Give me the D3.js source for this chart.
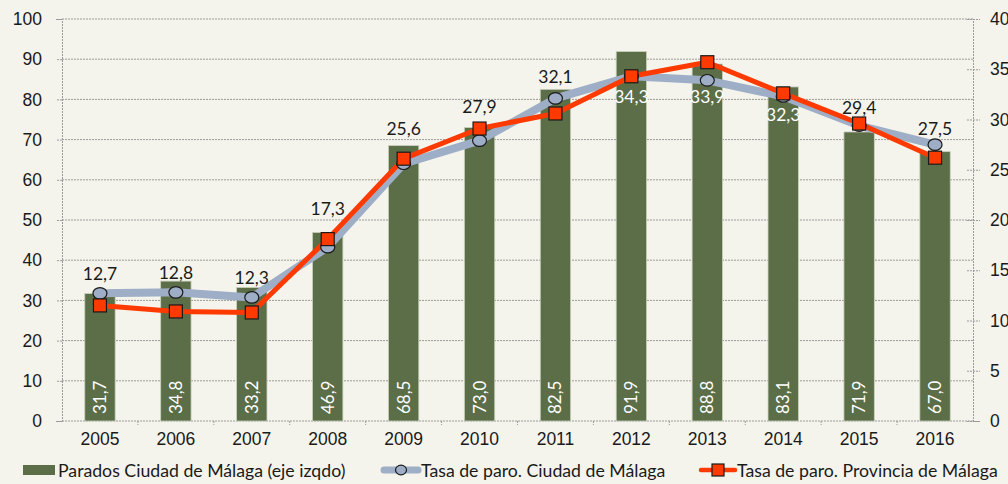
<!DOCTYPE html>
<html>
<head>
<meta charset="utf-8">
<script src="https://cdn.jsdelivr.net/npm/d3@7"></script>
<style>
  html, body { margin: 0; padding: 0; background: #f4f4ec; }
  svg { display: block; font-family: Lato, "Open Sans", sans-serif; }
</style>
</head>
<body>
<svg id="chart" width="1008" height="484"></svg>
<script>
// Paro en Málaga 2005–2016
const years = ["2005","2006","2007","2008","2009","2010","2011","2012","2013","2014","2015","2016"];
const parados = [31.7, 34.8, 33.2, 46.9, 68.5, 73.0, 82.5, 91.9, 88.8, 83.1, 71.9, 67.0];
const tasaCiudad = [12.7, 12.8, 12.3, 17.3, 25.6, 27.9, 32.1, 34.3, 33.9, 32.3, 29.4, 27.5];
const tasaProvincia = [11.5, 10.9, 10.8, 18.1, 26.1, 29.1, 30.6, 34.3, 35.7, 32.6, 29.6, 26.2];
const leftTicks = [0, 10, 20, 30, 40, 50, 60, 70, 80, 90, 100];
const rightTicks = [0, 5, 10, 15, 20, 25, 30, 35, 40];
const seriesNames = ["Parados Ciudad de Málaga (eje izqdo)", "Tasa de paro. Ciudad de Málaga", "Tasa de paro. Provincia de Málaga"];

// label placement for the city-rate values: vertical offset from the marker
// (positive = below the marker, drawn in white over the bar)
const labelDy = [-13, -13, -13, -32, -29, -28, -15, 27, 23, 25, -12, -10];

const fmt = v => d3.format(".1f")(v).replace(".", ",");

const svg = d3.select("#chart");
const m = { left: 62, right: 973, top: 19, bottom: 421 };
const ink = "#1a1a1a";
const green = "#5b6e48", grey = "#9eaec6", red = "#ff3a00";

const x = d3.scaleBand().domain(years).range([m.left, m.right]).paddingInner(0.6).paddingOuter(0.3);
const xs = d3.scaleBand().domain(years).range([m.left, m.right]);
const yL = d3.scaleLinear().domain([0, 100]).range([m.bottom, m.top]);
const yR = d3.scaleLinear().domain([0, 40]).range([m.bottom, m.top]);

const dot = "2,1";
const gridColor = "#9a9a9a";

// horizontal gridlines
svg.append("g").selectAll("line").data(leftTicks.slice(1)).join("line")
  .attr("x1", m.left).attr("x2", m.right)
  .attr("y1", d => yL(d)).attr("y2", d => yL(d))
  .attr("stroke", gridColor).attr("stroke-width", 1).attr("stroke-dasharray", dot);

// left axis
const axL = svg.append("g").attr("transform", `translate(${m.left},0)`)
  .call(d3.axisLeft(yL).tickValues(leftTicks).tickSize(6).tickPadding(14));
axL.select(".domain").attr("stroke", gridColor).attr("stroke-dasharray", dot);
axL.selectAll(".tick line").attr("stroke", gridColor).attr("stroke-dasharray", dot);
axL.selectAll("text").attr("font-size", 17.5).attr("fill", ink);

// right axis
const axR = svg.append("g").attr("transform", `translate(${m.right},0)`)
  .call(d3.axisRight(yR).tickValues(rightTicks).tickSize(7).tickPadding(10));
axR.select(".domain").attr("stroke", gridColor).attr("stroke-dasharray", dot);
axR.selectAll(".tick line").attr("stroke", gridColor).attr("stroke-dasharray", dot).attr("x1", -6);
axR.selectAll("text").attr("font-size", 17.5).attr("fill", ink);

// bottom axis
const axB = svg.append("g").attr("transform", `translate(0,${m.bottom})`)
  .call(d3.axisBottom(x).tickSize(0).tickPadding(12));
axB.select(".domain").remove();
axB.selectAll("text").attr("font-size", 17.5).attr("fill", ink);
svg.append("line").attr("x1", m.left).attr("x2", m.right).attr("y1", m.bottom).attr("y2", m.bottom)
  .attr("stroke", gridColor).attr("stroke-dasharray", dot);
svg.append("g").selectAll("line").data(years.slice(1)).join("line")
  .attr("x1", d => xs(d)).attr("x2", d => xs(d))
  .attr("y1", m.bottom).attr("y2", m.bottom + 4)
  .attr("stroke", gridColor).attr("stroke-dasharray", dot);

// bars
svg.append("g").selectAll("rect").data(parados).join("rect")
  .attr("x", (d, i) => x(years[i]))
  .attr("width", x.bandwidth())
  .attr("y", d => yL(d))
  .attr("height", d => m.bottom - yL(d))
  .attr("fill", green)
  .attr("stroke", "#c9d0bd").attr("stroke-width", 0.8);

// bar value labels (vertical)
svg.append("g").selectAll("text").data(parados).join("text")
  .attr("transform", (d, i) => `translate(${x(years[i]) + x.bandwidth() / 2 + 6},${m.bottom - 7}) rotate(-90)`)
  .attr("font-size", 17).attr("fill", "#ffffff")
  .text(d => fmt(d));

const cx = i => x(years[i]) + x.bandwidth() / 2;

// city rate line
svg.append("path").datum(tasaCiudad)
  .attr("d", d3.line().x((d, i) => cx(i)).y(d => yR(d)))
  .attr("fill", "none").attr("stroke", grey).attr("stroke-width", 8).attr("stroke-linejoin", "round");
// province rate line
svg.append("path").datum(tasaProvincia)
  .attr("d", d3.line().x((d, i) => cx(i)).y(d => yR(d)))
  .attr("fill", "none").attr("stroke", red).attr("stroke-width", 5).attr("stroke-linejoin", "round");

// city markers
svg.append("g").selectAll("ellipse").data(tasaCiudad).join("ellipse")
  .attr("cx", (d, i) => cx(i)).attr("cy", d => yR(d))
  .attr("rx", 7).attr("ry", 5.8)
  .attr("fill", grey).attr("stroke", ink).attr("stroke-width", 1.2);
// province markers
svg.append("g").selectAll("rect").data(tasaProvincia).join("rect")
  .attr("x", (d, i) => cx(i) - 6.5).attr("y", d => yR(d) - 6.5)
  .attr("width", 13).attr("height", 13)
  .attr("fill", red).attr("stroke", ink).attr("stroke-width", 1.2);

// city rate labels
svg.append("g").selectAll("text").data(tasaCiudad).join("text")
  .attr("x", (d, i) => cx(i))
  .attr("y", (d, i) => yR(d) + labelDy[i])
  .attr("text-anchor", "middle").attr("font-size", 17.5)
  .attr("fill", (d, i) => labelDy[i] > 0 ? "#ffffff" : ink)
  .text(d => fmt(d));

// legend
const lg = svg.append("g").attr("font-size", 17.7).attr("fill", ink);
lg.append("rect").attr("x", 23).attr("y", 465).attr("width", 32).attr("height", 10).attr("fill", green);
lg.append("text").attr("x", 58).attr("y", 477).text(seriesNames[0]);
lg.append("line").attr("x1", 384).attr("x2", 418).attr("y1", 470).attr("y2", 470)
  .attr("stroke", grey).attr("stroke-width", 7).attr("stroke-linecap", "round");
lg.append("ellipse").attr("cx", 401).attr("cy", 470).attr("rx", 5.5).attr("ry", 4.8)
  .attr("fill", grey).attr("stroke", ink).attr("stroke-width", 1.2);
lg.append("text").attr("x", 421).attr("y", 477).text(seriesNames[1]);
lg.append("line").attr("x1", 701).attr("x2", 735).attr("y1", 470).attr("y2", 470)
  .attr("stroke", red).attr("stroke-width", 4.5).attr("stroke-linecap", "round");
lg.append("rect").attr("x", 712).attr("y", 464).attr("width", 12).attr("height", 12)
  .attr("fill", red).attr("stroke", ink).attr("stroke-width", 1.2);
lg.append("text").attr("x", 737).attr("y", 477).text(seriesNames[2]);
</script>
</body>
</html>
